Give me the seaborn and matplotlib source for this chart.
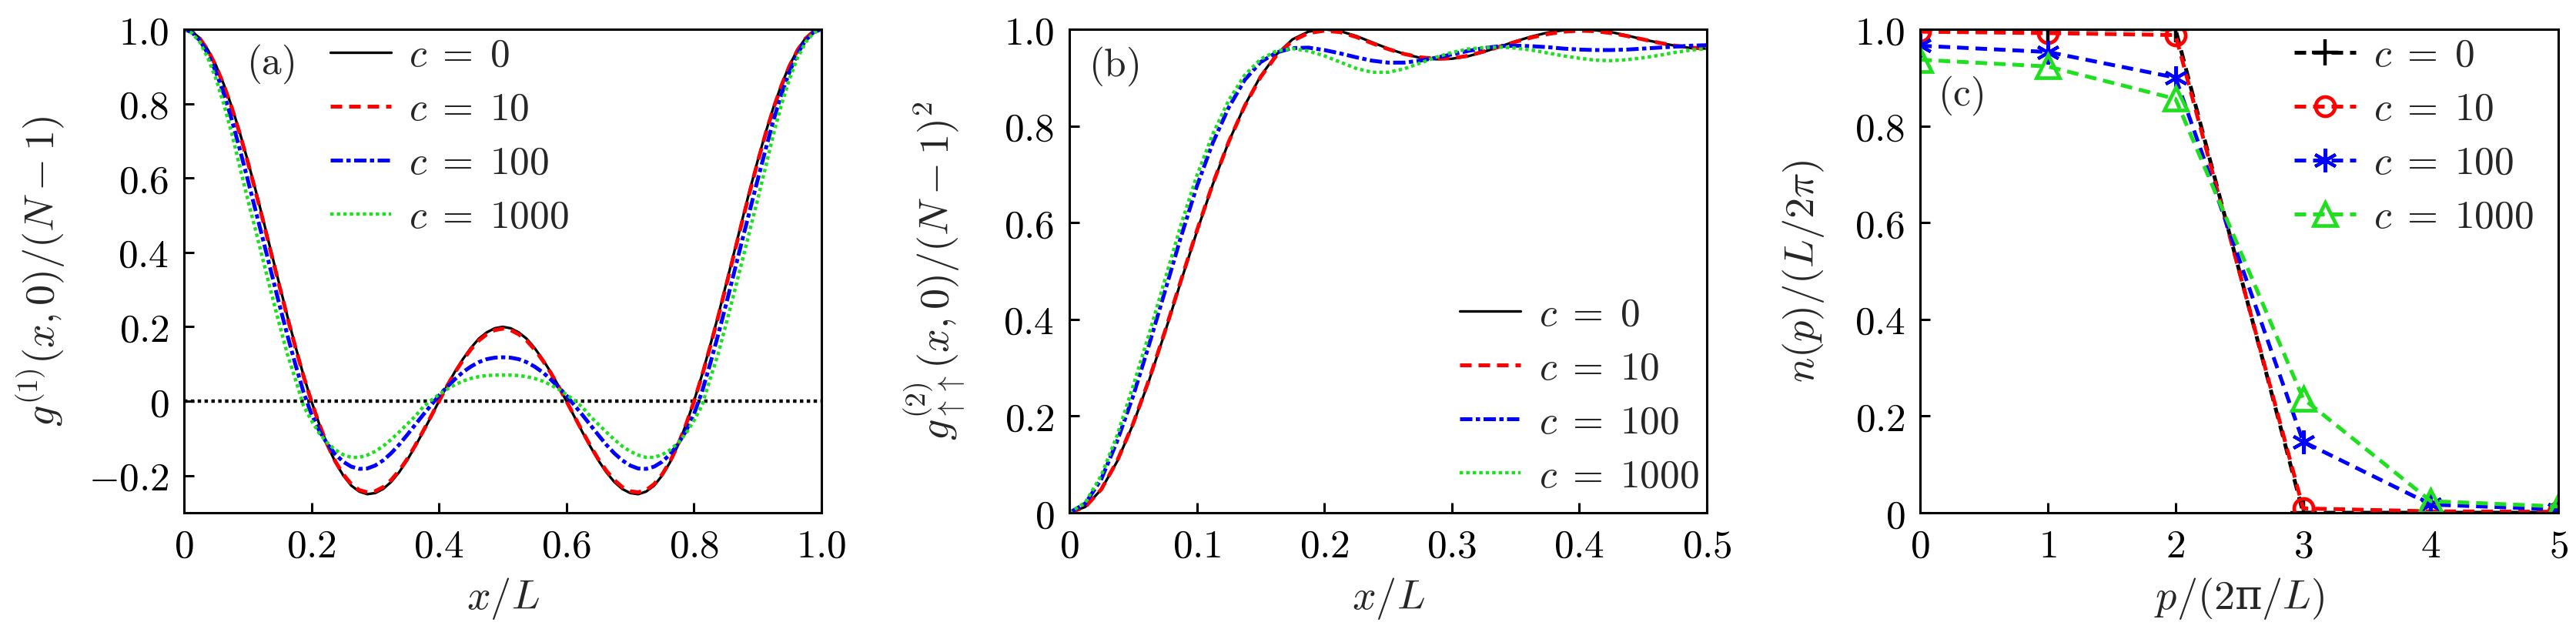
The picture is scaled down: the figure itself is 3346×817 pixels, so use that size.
import numpy as np
import pandas as pd
import seaborn as sns
import matplotlib.pyplot as plt

# =============================================================================
# DATA
# =============================================================================

c_labels = [r"$c\;=\;0$", r"$c\;=\;10$", r"$c\;=\;100$", r"$c\;=\;1000$"]

# ---- panel (a): g1(x,0)/(N-1), x/L from 0 to 1 --------------------------------
xa = np.linspace(0.0, 1.0, 81)

g1_c0 = [
    1.000, 0.994, 0.976, 0.945, 0.904, 0.852, 0.792, 0.723, 0.647, 0.567,
    0.483, 0.397, 0.312, 0.227, 0.147, 0.070, 0.000, -0.063, -0.118, -0.164,
    -0.200, -0.227, -0.243, -0.250, -0.247, -0.236, -0.217, -0.191, -0.159, -0.122,
    -0.083, -0.042, 0.000, 0.041, 0.079, 0.113, 0.143, 0.168, 0.185, 0.196,
    0.200,
    0.196, 0.185, 0.168, 0.143, 0.113, 0.079, 0.041, 0.000, -0.042, -0.083,
    -0.122, -0.159, -0.191, -0.217, -0.236, -0.247, -0.250, -0.243, -0.227, -0.200,
    -0.164, -0.118, -0.063, 0.000, 0.070, 0.147, 0.227, 0.312, 0.397, 0.483,
    0.567, 0.647, 0.723, 0.792, 0.852, 0.904, 0.945, 0.976, 0.994, 1.000,
]
g1_c10 = [
    1.000, 0.994, 0.975, 0.944, 0.902, 0.850, 0.789, 0.720, 0.644, 0.563,
    0.479, 0.393, 0.308, 0.224, 0.144, 0.068, -0.001, -0.063, -0.117, -0.162,
    -0.197, -0.223, -0.239, -0.245, -0.242, -0.231, -0.212, -0.187, -0.156, -0.120,
    -0.081, -0.041, 0.000, 0.040, 0.077, 0.110, 0.139, 0.163, 0.180, 0.191,
    0.195,
    0.191, 0.180, 0.163, 0.139, 0.110, 0.077, 0.040, 0.000, -0.041, -0.081,
    -0.120, -0.156, -0.187, -0.212, -0.231, -0.242, -0.245, -0.239, -0.223, -0.197,
    -0.162, -0.117, -0.063, -0.001, 0.068, 0.144, 0.224, 0.308, 0.393, 0.479,
    0.563, 0.644, 0.720, 0.789, 0.850, 0.902, 0.944, 0.975, 0.994, 1.000,
]
g1_c100 = [
    1.000, 0.992, 0.970, 0.935, 0.886, 0.827, 0.757, 0.678, 0.596, 0.512,
    0.428, 0.343, 0.258, 0.176, 0.098, 0.025, -0.035, -0.080, -0.115, -0.143,
    -0.163, -0.176, -0.182, -0.181, -0.173, -0.159, -0.140, -0.117, -0.091, -0.064,
    -0.037, -0.011, 0.015, 0.038, 0.059, 0.078, 0.093, 0.105, 0.113, 0.117,
    0.118,
    0.117, 0.113, 0.105, 0.093, 0.078, 0.059, 0.038, 0.015, -0.011, -0.037,
    -0.064, -0.091, -0.117, -0.140, -0.159, -0.173, -0.181, -0.182, -0.176, -0.163,
    -0.143, -0.115, -0.080, -0.035, 0.025, 0.098, 0.176, 0.258, 0.343, 0.428,
    0.512, 0.596, 0.678, 0.757, 0.827, 0.886, 0.935, 0.970, 0.992, 1.000,
]
g1_c1000 = [
    1.000, 0.990, 0.965, 0.923, 0.868, 0.799, 0.720, 0.631, 0.543, 0.459,
    0.373, 0.288, 0.205, 0.125, 0.058, -0.012, -0.052, -0.087, -0.112, -0.131,
    -0.144, -0.151, -0.151, -0.145, -0.135, -0.121, -0.103, -0.083, -0.062, -0.041,
    -0.016, 0.002, 0.018, 0.032, 0.044, 0.054, 0.061, 0.066, 0.069, 0.070,
    0.070,
    0.070, 0.069, 0.066, 0.061, 0.054, 0.044, 0.032, 0.018, 0.002, -0.016,
    -0.041, -0.062, -0.083, -0.103, -0.121, -0.135, -0.145, -0.151, -0.151, -0.144,
    -0.131, -0.112, -0.087, -0.052, -0.012, 0.058, 0.125, 0.205, 0.288, 0.373,
    0.459, 0.543, 0.631, 0.720, 0.799, 0.868, 0.923, 0.965, 0.990, 1.000,
]
zero_level = 0.0

# ---- panel (b): g2_upup(x,0)/(N-1)^2, x/L from 0 to 0.5 -------------------------
xb = np.linspace(0.0, 0.5, 41)

g2_c0 = [
    0.000, 0.012, 0.048, 0.106, 0.183, 0.273, 0.373, 0.478, 0.581, 0.679,
    0.767, 0.842, 0.903, 0.948, 0.979, 0.995, 1.000, 0.996, 0.986, 0.973,
    0.960, 0.949, 0.941, 0.938, 0.939, 0.944, 0.953, 0.964, 0.975, 0.985,
    0.993, 0.998, 1.000, 0.998, 0.994, 0.987, 0.979, 0.972, 0.966, 0.961,
    0.960,
]
g2_c10 = [
    0.000, 0.012, 0.048, 0.107, 0.184, 0.275, 0.375, 0.480, 0.583, 0.680,
    0.767, 0.841, 0.901, 0.946, 0.976, 0.992, 0.997, 0.994, 0.984, 0.971,
    0.959, 0.949, 0.942, 0.939, 0.940, 0.945, 0.954, 0.964, 0.974, 0.983,
    0.990, 0.995, 0.997, 0.996, 0.992, 0.986, 0.979, 0.972, 0.966, 0.962,
    0.960,
]
g2_c100 = [
    0.000, 0.019, 0.069, 0.148, 0.241, 0.347, 0.458, 0.570, 0.675, 0.765,
    0.838, 0.895, 0.932, 0.952, 0.961, 0.962, 0.957, 0.950, 0.942, 0.935,
    0.931, 0.931, 0.935, 0.941, 0.948, 0.955, 0.961, 0.965, 0.966, 0.965,
    0.963, 0.960, 0.958, 0.957, 0.957, 0.958, 0.960, 0.962, 0.964, 0.966,
    0.967,
]
g2_c1000 = [
    0.000, 0.021, 0.077, 0.160, 0.262, 0.369, 0.482, 0.595, 0.697, 0.783,
    0.853, 0.905, 0.938, 0.955, 0.960, 0.955, 0.945, 0.932, 0.919, 0.911,
    0.911, 0.918, 0.930, 0.942, 0.952, 0.959, 0.962, 0.963, 0.961, 0.957,
    0.951, 0.945, 0.940, 0.936, 0.935, 0.937, 0.941, 0.946, 0.952, 0.957,
    0.960,
]

# ---- panel (c): n(p)/(L/2pi) at integer p/(2pi/L) -------------------------------
p_vals = [0, 1, 2, 3, 4, 5]
n_c0 = [1.000, 1.000, 1.000, 0.000, 0.000, 0.000]
n_c10 = [0.995, 0.992, 0.988, 0.009, 0.003, 0.002]
n_c100 = [0.966, 0.953, 0.900, 0.147, 0.017, 0.007]
n_c1000 = [0.937, 0.923, 0.856, 0.236, 0.024, 0.013]

# ---- ticks ---------------------------------------------------------------------
a_xticks = [0, 0.2, 0.4, 0.6, 0.8, 1.0]
a_xlabels = ["$0$", "$0.2$", "$0.4$", "$0.6$", "$0.8$", "$1.0$"]
a_yticks = [-0.2, 0, 0.2, 0.4, 0.6, 0.8, 1.0]
a_ylabels = ["$-0.2$", "$0$", "$0.2$", "$0.4$", "$0.6$", "$0.8$", "$1.0$"]
b_xticks = [0, 0.1, 0.2, 0.3, 0.4, 0.5]
b_xlabels = ["$0$", "$0.1$", "$0.2$", "$0.3$", "$0.4$", "$0.5$"]
bc_yticks = [0, 0.2, 0.4, 0.6, 0.8, 1.0]
bc_ylabels = ["$0$", "$0.2$", "$0.4$", "$0.6$", "$0.8$", "$1.0$"]
c_xticks = [0, 1, 2, 3, 4, 5]
c_xlabels = ["$0$", "$1$", "$2$", "$3$", "$4$", "$5$"]

# =============================================================================
# STYLE
# =============================================================================

sns.set_style("ticks")
plt.rcParams["font.family"] = ["DejaVu Serif"]
plt.rcParams["mathtext.fontset"] = "cm"
plt.rcParams["axes.linewidth"] = 1.1
plt.rcParams["axes.edgecolor"] = "black"

FS = 18.5      # ticks and legend
FS_LAB = 19.5  # axis labels
RED = "#ff0000"
BLUE = "#0000ff"
GREEN = "#1ee01e"

DASH = (0, (3.0, 1.8))

curve_styles = [
    dict(color="black", lw=1.2, linestyle="-"),
    dict(color=RED, lw=1.8, linestyle=DASH),
    dict(color=BLUE, lw=1.8, linestyle=(0, (3.2, 0.9, 1.1, 0.9))),
    dict(color=GREEN, lw=1.6, linestyle=(0, (1.0, 0.9))),
]

LEG_KW = dict(frameon=False, fontsize=FS, handlelength=1.55, handletextpad=0.45,
              labelspacing=0.40, borderpad=0, borderaxespad=0)

fig = plt.figure(figsize=(16.73, 4.085), dpi=200)
ax_a = fig.add_axes([0.0714, 0.1848, 0.2475, 0.7687])
ax_b = fig.add_axes([0.4151, 0.1848, 0.2475, 0.7687])
ax_c = fig.add_axes([0.7454, 0.1848, 0.2478, 0.7687])


def style_axes(ax):
    for s in ax.spines.values():
        s.set_visible(True)
        s.set_linewidth(1.1)
        s.set_color("black")
    ax.tick_params(direction="in", length=4.7, width=1.1, top=False, right=False,
                   labelsize=FS, pad=7, colors="black")
    ax.grid(False)


# =============================================================================
# PANEL (a)
# =============================================================================

ax_a.axhline(zero_level, color="black", lw=1.6, linestyle=(0, (1, 1)), zorder=1)
for yv, lab, st in zip([g1_c0, g1_c10, g1_c100, g1_c1000], c_labels, curve_styles):
    sns.lineplot(x=xa, y=yv, ax=ax_a, label=lab, sort=False, **st)

ax_a.set_xlim(0, 1.0)
ax_a.set_ylim(-0.3, 1.0)
ax_a.set_xticks(a_xticks, a_xlabels)
ax_a.set_yticks(a_yticks, a_ylabels)
style_axes(ax_a)
ax_a.set_xlabel("$x/L$", fontsize=FS_LAB, va="center")
ax_a.set_ylabel("$g^{(1)}(x,0)/(N-1)$", fontsize=FS_LAB, va="center")
ax_a.xaxis.set_label_coords(0.5, -0.178)
ax_a.yaxis.set_label_coords(-0.225, 0.5)
ax_a.text(0.136, 0.928, r"$\mathrm{(a)}$", transform=ax_a.transAxes,
          fontsize=FS, ha="center", va="center")
ax_a.legend(loc="upper left", bbox_to_anchor=(0.229, 0.985), **LEG_KW)

# =============================================================================
# PANEL (b)
# =============================================================================

for yv, lab, st in zip([g2_c0, g2_c10, g2_c100, g2_c1000], c_labels, curve_styles):
    sns.lineplot(x=xb, y=yv, ax=ax_b, label=lab, sort=False, **st)

ax_b.set_xlim(0, 0.5)
ax_b.set_ylim(0, 1.0)
ax_b.set_xticks(b_xticks, b_xlabels)
ax_b.set_yticks(bc_yticks, bc_ylabels)
style_axes(ax_b)
ax_b.set_xlabel("$x/L$", fontsize=FS_LAB, va="center")
ax_b.set_ylabel(r"$g^{(2)}_{\uparrow\uparrow}(x,0)/(N-1)^2$", fontsize=FS_LAB, va="center")
ax_b.xaxis.set_label_coords(0.5, -0.178)
ax_b.yaxis.set_label_coords(-0.211, 0.5)
ax_b.text(0.070, 0.924, r"$\mathrm{(b)}$", transform=ax_b.transAxes,
          fontsize=FS, ha="center", va="center")
ax_b.legend(loc="lower left", bbox_to_anchor=(0.612, 0.036), **LEG_KW)

# =============================================================================
# PANEL (c)
# =============================================================================

marker_styles = [
    dict(color="black", marker="+", markersize=12, markeredgewidth=1.6,
         markeredgecolor="black", markerfacecolor="none"),
    dict(color=RED, marker="o", markersize=9, markeredgewidth=1.7,
         markeredgecolor=RED, markerfacecolor="none"),
    dict(color=BLUE, marker=(6, 2, 0), markersize=11, markeredgewidth=1.5,
         markeredgecolor=BLUE, markerfacecolor="none"),
    dict(color=GREEN, marker="^", markersize=11, markeredgewidth=1.7,
         markeredgecolor=GREEN, markerfacecolor="none"),
]

for yv, lab, ms in zip([n_c0, n_c10, n_c100, n_c1000], c_labels, marker_styles):
    sns.lineplot(x=p_vals, y=yv, ax=ax_c, label=lab, sort=False,
                 lw=1.8, linestyle=DASH, **ms)

ax_c.set_xlim(0, 5)
ax_c.set_ylim(0, 1.0)
ax_c.set_xticks(c_xticks, c_xlabels)
ax_c.set_yticks(bc_yticks, bc_ylabels)
style_axes(ax_c)
ax_c.set_xlabel(r"$p/(2$π$/L)$", fontsize=FS_LAB, va="center")
ax_c.set_ylabel(r"$n(p)/(L/2\pi)$", fontsize=FS_LAB, va="center")
ax_c.xaxis.set_label_coords(0.5, -0.178)
ax_c.yaxis.set_label_coords(-0.183, 0.5)
ax_c.text(0.064, 0.862, r"$\mathrm{(c)}$", transform=ax_c.transAxes,
          fontsize=FS, ha="center", va="center")
ax_c.legend(loc="upper left", bbox_to_anchor=(0.586, 0.985), numpoints=1, **LEG_KW)

fig.savefig("out.png", dpi=200)
